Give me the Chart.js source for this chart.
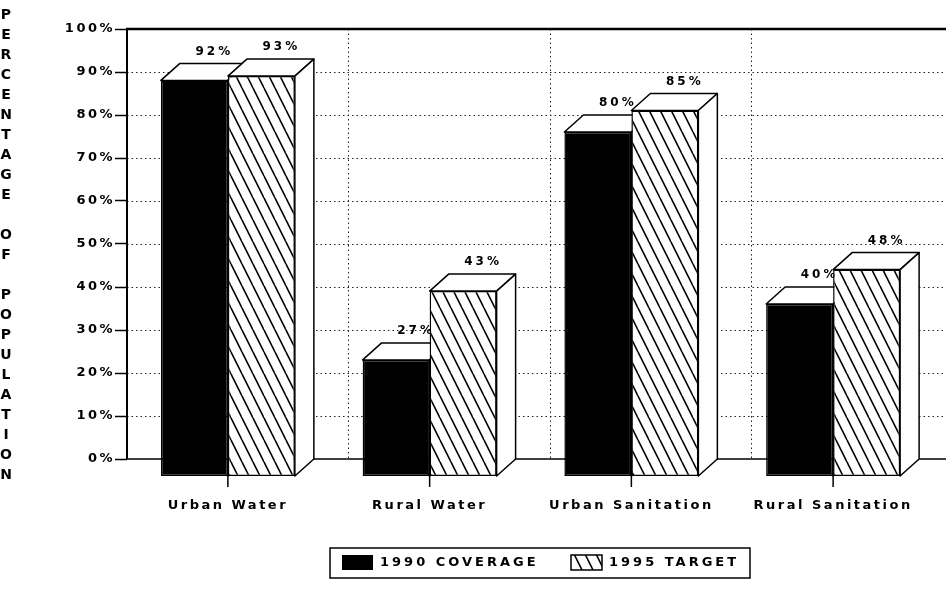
<!DOCTYPE html>
<html>
<head>
<meta charset="utf-8">
<script src="https://cdn.jsdelivr.net/npm/chart.js@4/dist/chart.umd.min.js"></script>
<style>
  html, body { margin: 0; padding: 0; background: #fff; }
  #grafico { display: block; }
</style>
</head>
<body>
<canvas id="grafico" width="946" height="596"></canvas>
<script>
// Datos del gráfico
const categorias = ['Urban Water', 'Rural Water', 'Urban Sanitation', 'Rural Sanitation'];
const cobertura1990 = [92, 27, 80, 40];
const meta1995 = [93, 43, 85, 48];
const nombresSeries = ['1990 COVERAGE', '1995 TARGET'];
const marcasY = [0, 10, 20, 30, 40, 50, 60, 70, 80, 90, 100];
const tituloY = 'PERCENTAGE OF POPULATION';

// Profundidad del efecto 3D (px)
const DX = 19;
const DY = 17;
const FUENTE = 'DejaVu Sans';

const canvas = document.getElementById('grafico');
const ctx = canvas.getContext('2d');

// Trama rayada para la serie 1995
function crearRayado() {
  const t = document.createElement('canvas');
  t.width = 11; t.height = 22;
  const g = t.getContext('2d');
  g.fillStyle = '#fff';
  g.fillRect(0, 0, 11, 22);
  g.strokeStyle = '#000';
  g.lineWidth = 1.6;
  [-11, 0, 11].forEach(off => {
    g.beginPath();
    g.moveTo(off, 0);
    g.lineTo(off + 11, 22);
    g.stroke();
  });
  return ctx.createPattern(t, 'repeat');
}
const rayado = crearRayado();

function carasBarra(c, el) {
  const { x, y, base, width } = el.getProps(['x', 'y', 'base', 'width'], true);
  const l = x - width / 2, r = x + width / 2;
  c.fillStyle = '#fff';
  c.strokeStyle = '#000';
  c.lineWidth = 1.5;
  c.lineJoin = 'round';
  // cara superior
  c.beginPath();
  c.moveTo(l, y); c.lineTo(l + DX, y - DY); c.lineTo(r + DX, y - DY); c.lineTo(r, y);
  c.closePath(); c.fill(); c.stroke();
  // cara lateral
  c.beginPath();
  c.moveTo(r, y); c.lineTo(r + DX, y - DY); c.lineTo(r + DX, base - DY); c.lineTo(r, base);
  c.closePath(); c.fill(); c.stroke();
}

const barras3d = {
  id: 'barras3d',
  beforeUpdate(chart) { chart.ctx.letterSpacing = '2.5px'; },
  beforeDraw(chart) {
    const c = chart.ctx;
    c.save();
    c.fillStyle = '#fff';
    c.fillRect(0, 0, chart.width, chart.height);
    c.restore();
    c.letterSpacing = '2.5px';
  },
  beforeDatasetsDraw(chart) {
    const c = chart.ctx;
    const ca = chart.chartArea;
    const yf = chart.scales.yFondo;
    const xs = chart.scales.x;
    const top = yf.getPixelForValue(100);
    const cero = yf.getPixelForValue(0);
    c.save();
    // líneas horizontales punteadas
    c.strokeStyle = '#222';
    c.lineWidth = 1;
    c.setLineDash([1.5, 3]);
    marcasY.forEach(v => {
      if (v === 0 || v === 100) return;
      const py = Math.round(yf.getPixelForValue(v)) + 0.5;
      c.beginPath(); c.moveTo(ca.left, py); c.lineTo(chart.width, py); c.stroke();
    });
    // líneas verticales punteadas (plano de fondo)
    for (let i = 1; i < categorias.length; i++) {
      const bx = Math.round((xs.getPixelForValue(i - 1) + xs.getPixelForValue(i)) / 2 + DX) + 0.5;
      c.beginPath(); c.moveTo(bx, top); c.lineTo(bx, cero); c.stroke();
    }
    c.setLineDash([]);
    c.strokeStyle = '#000';
    // línea 100%
    c.lineWidth = 2.5;
    c.beginPath(); c.moveTo(ca.left - 1, top); c.lineTo(chart.width, top); c.stroke();
    // línea 0%
    c.lineWidth = 1.5;
    c.beginPath(); c.moveTo(ca.left, cero); c.lineTo(chart.width, cero); c.stroke();
    // eje Y
    c.lineWidth = 2;
    c.beginPath(); c.moveTo(ca.left, top); c.lineTo(ca.left, cero); c.stroke();

    // barras en orden de profundidad
    const metas = chart.data.datasets.map((d, i) => chart.getDatasetMeta(i));
    categorias.forEach((cat, i) => {
      metas.forEach((meta, d) => {
        const el = meta.data[i];
        el.draw(c);
        carasBarra(c, el);
        // etiqueta del valor
        const { x, y } = el.getProps(['x', 'y'], true);
        c.save();
        c.letterSpacing = '3px';
        c.font = 'bold 12px "' + FUENTE + '"';
        c.fillStyle = '#000';
        c.textAlign = 'center';
        c.textBaseline = 'middle';
        c.fillText(chart.data.datasets[d].data[i] + '%', x + DX + 1, y - DY - 12);
        c.restore();
      });
    });

    // marcas del eje X
    c.strokeStyle = '#000';
    c.lineWidth = 1.5;
    categorias.forEach((cat, i) => {
      const px = xs.getPixelForValue(i);
      c.beginPath(); c.moveTo(px, ca.bottom); c.lineTo(px, ca.bottom + 11); c.stroke();
    });
    c.restore();
    return false;
  },
  afterDraw(chart) {
    const c = chart.ctx;
    c.save();
    c.fillStyle = '#000';
    c.letterSpacing = '0px';
    c.font = 'bold 14px "' + FUENTE + '"';
    c.textAlign = 'center';
    c.textBaseline = 'middle';
    // título vertical con letras apiladas
    [...tituloY].forEach((ch, i) => {
      if (ch !== ' ') c.fillText(ch, 6, 15 + i * 20);
    });

    // leyenda
    c.font = 'bold 13px "' + FUENTE + '"';
    c.strokeStyle = '#000';
    c.lineWidth = 1.5;
    c.strokeRect(330, 548, 420, 30);
    c.fillStyle = '#000';
    c.fillRect(342, 555, 31, 15);
    c.fillStyle = rayado;
    c.fillRect(571, 555, 31, 15);
    c.strokeRect(571, 555, 31, 15);
    c.fillStyle = '#000';
    c.letterSpacing = '3px';
    c.textAlign = 'left';
    c.fillText(nombresSeries[0], 380, 563);
    c.fillText(nombresSeries[1], 609, 563);
    c.restore();
  }
};

new Chart(ctx, {
  type: 'bar',
  data: {
    labels: categorias,
    datasets: [
      {
        label: nombresSeries[0],
        data: cobertura1990,
        backgroundColor: '#000',
        borderColor: '#000',
        borderWidth: 1.5,
        borderSkipped: false,
        yAxisID: 'y'
      },
      {
        label: nombresSeries[1],
        data: meta1995,
        backgroundColor: rayado,
        borderColor: '#000',
        borderWidth: 1.5,
        borderSkipped: false,
        yAxisID: 'y'
      }
    ]
  },
  options: {
    responsive: false,
    animation: false,
    devicePixelRatio: 1,
    layout: { padding: { top: 29, right: 12, left: 0, bottom: 0 } },
    datasets: { bar: { categoryPercentage: 0.664, barPercentage: 1 } },
    plugins: {
      legend: { display: false },
      tooltip: { enabled: false }
    },
    scales: {
      x: {
        type: 'category',
        grid: { display: false, drawTicks: false },
        border: { display: false },
        ticks: {
          color: '#000',
          font: { family: FUENTE, weight: 'bold', size: 13 },
          padding: 22,
          maxRotation: 0,
          autoSkip: false
        },
        afterFit: s => { s.height = 120; }
      },
      y: {
        display: false,
        min: 0,
        max: 100 + DY / 4.3
      },
      yFondo: {
        position: 'left',
        min: -DY / 4.3,
        max: 100,
        afterBuildTicks: s => { s.ticks = marcasY.map(v => ({ value: v })); },
        ticks: {
          callback: v => v + '%',
          color: '#000',
          font: { family: FUENTE, weight: 'bold', size: 13 },
          padding: 0
        },
        grid: {
          drawOnChartArea: false,
          drawTicks: true,
          tickLength: 12,
          tickColor: '#000',
          tickWidth: 1.5
        },
        border: { display: false },
        afterFit: s => { s.width = 127; }
      }
    }
  },
  plugins: [barras3d]
});
</script>
</body>
</html>
